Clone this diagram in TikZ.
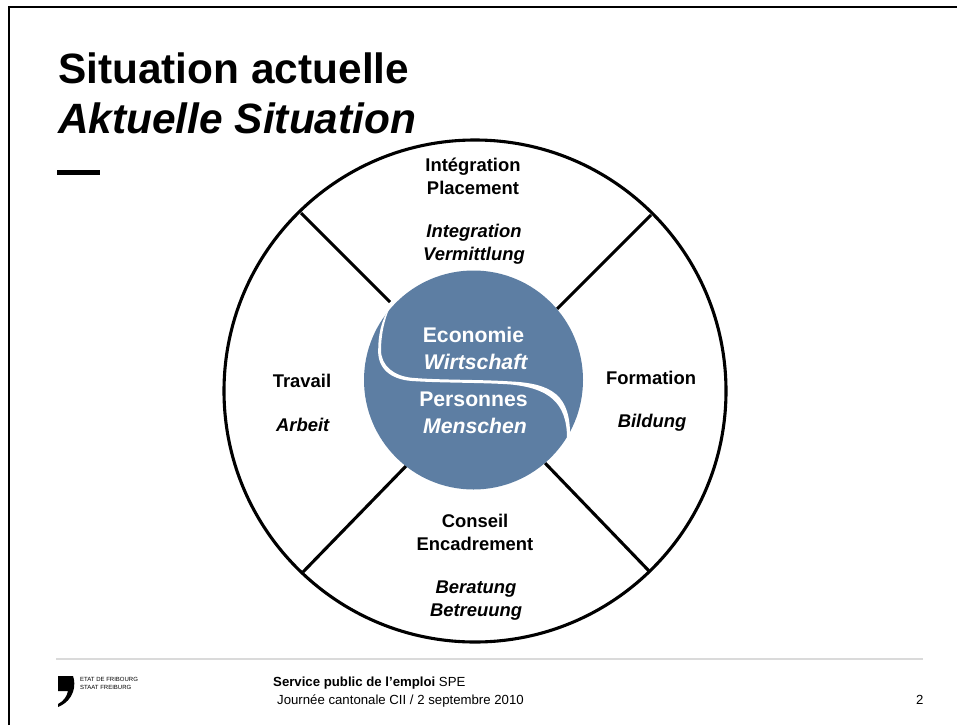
\documentclass[tikz,border=0pt]{standalone}
\usepackage{fontspec}
\setmainfont{Liberation Sans}
\definecolor{disc}{RGB}{93,126,163}
\definecolor{rulegrey}{RGB}{218,218,218}
\tikzset{
  x=1pt,y=-1pt,
  spoke/.style={line width=3.1pt,black},
  lbl/.style={align=center,font=\fontsize{18.4}{23}\selectfont\bfseries,inner sep=0pt},
  inlbl/.style={align=center,text=white,font=\fontsize{21.2}{25.5}\selectfont\bfseries,inner sep=0pt},
  anch/.style={anchor=base west,inner sep=0pt}
}
\begin{document}
\begin{tikzpicture}
\useasboundingbox (0,0) rectangle (957,725);
\fill[white] (0,0) rectangle (957,725);
\draw[line width=2pt] (9,725) -- (9,7) -- (957,7);
\node[anch,font=\fontsize{42.4}{42}\selectfont\bfseries] (t1) at (58,83) {Situation actuelle};
\node[anch,font=\fontsize{42.4}{42}\selectfont\bfseries\itshape] (t2) at (58,133) {Aktuelle Situation};
\fill (57,170) rectangle (100,174.5);
\node[circle,draw,line width=3.1pt,minimum size=502pt,inner sep=0pt] (outer) at (475,391) {};
\draw[spoke] (301,213) -- (390,302);
\draw[spoke] (651,215) -- (557,309);
\draw[spoke] (303,572) -- (407,465);
\draw[spoke] (545,463) -- (650,572);
\node[circle,fill=disc,minimum size=219pt,inner sep=0pt] (inner) at (473.5,380) {};
\fill[white] (390,307) .. controls (384,320) and (381,336) .. (381,350)
  .. controls (381,366) and (394,376) .. (412,377.8)
  .. controls (440,380.2) and (480,379.4) .. (510,381.4)
  .. controls (552,383.4) and (571,395) .. (570,438)
  -- (567,438)
  .. controls (567,402) and (548,388) .. (510,384.4)
  .. controls (480,382.4) and (440,383) .. (412,381)
  .. controls (390,379.4) and (377.5,368) .. (378.2,350)
  .. controls (378.2,336) and (381,320) .. (390,307) -- cycle;
\node[inlbl] (eco) at (473.5,335) {Economie};
\node[inlbl] (eco2) at (476,361.5) {\textit{Wirtschaft}};
\node[inlbl] (per) at (473.5,399) {Personnes};
\node[inlbl] (per2) at (475,425.5) {\textit{Menschen}};
\node[lbl] (n1) at (473,176) {Intégration\\Placement};
\node[lbl] (n2) at (474,244.5) {\textit{Integration}\\\textit{Vermittlung}};
\node[lbl] (n3) at (302,381) {Travail};
\node[lbl] (n4) at (303,425) {\textit{Arbeit}};
\node[lbl] (n5) at (651,378) {Formation};
\node[lbl] (n6) at (652,423) {\textit{Bildung}};
\node[lbl] (n7) at (475,532) {Conseil\\Encadrement};
\node[lbl] (n8) at (476,600.5) {\textit{Beratung}\\\textit{Betreuung}};
\draw[rulegrey,line width=1.1pt] (56,659) -- (923,659);
\fill (58,676) -- (73,676) .. controls (76,684) and (75,700) .. (58,707)
  -- (58,704) .. controls (64,701) and (67,696) .. (68,691) -- (58,691) -- cycle;
\node[anch,font=\fontsize{6}{6}\selectfont] (e1) at (80,681) {ETAT DE FRIBOURG};
\node[anch,font=\fontsize{6}{6}\selectfont] (e2) at (80,689) {STAAT FREIBURG};
\node[anch,font=\fontsize{13.2}{13}\selectfont] (f1) at (273,686) {\textbf{Service public de l’emploi} SPE};
\node[anch,font=\fontsize{13.2}{13}\selectfont] (f2) at (277,704) {Journée cantonale CII / 2 septembre 2010};
\node[anch,font=\fontsize{13.2}{13}\selectfont] (p) at (916,704) {2};
\end{tikzpicture}
\end{document}
